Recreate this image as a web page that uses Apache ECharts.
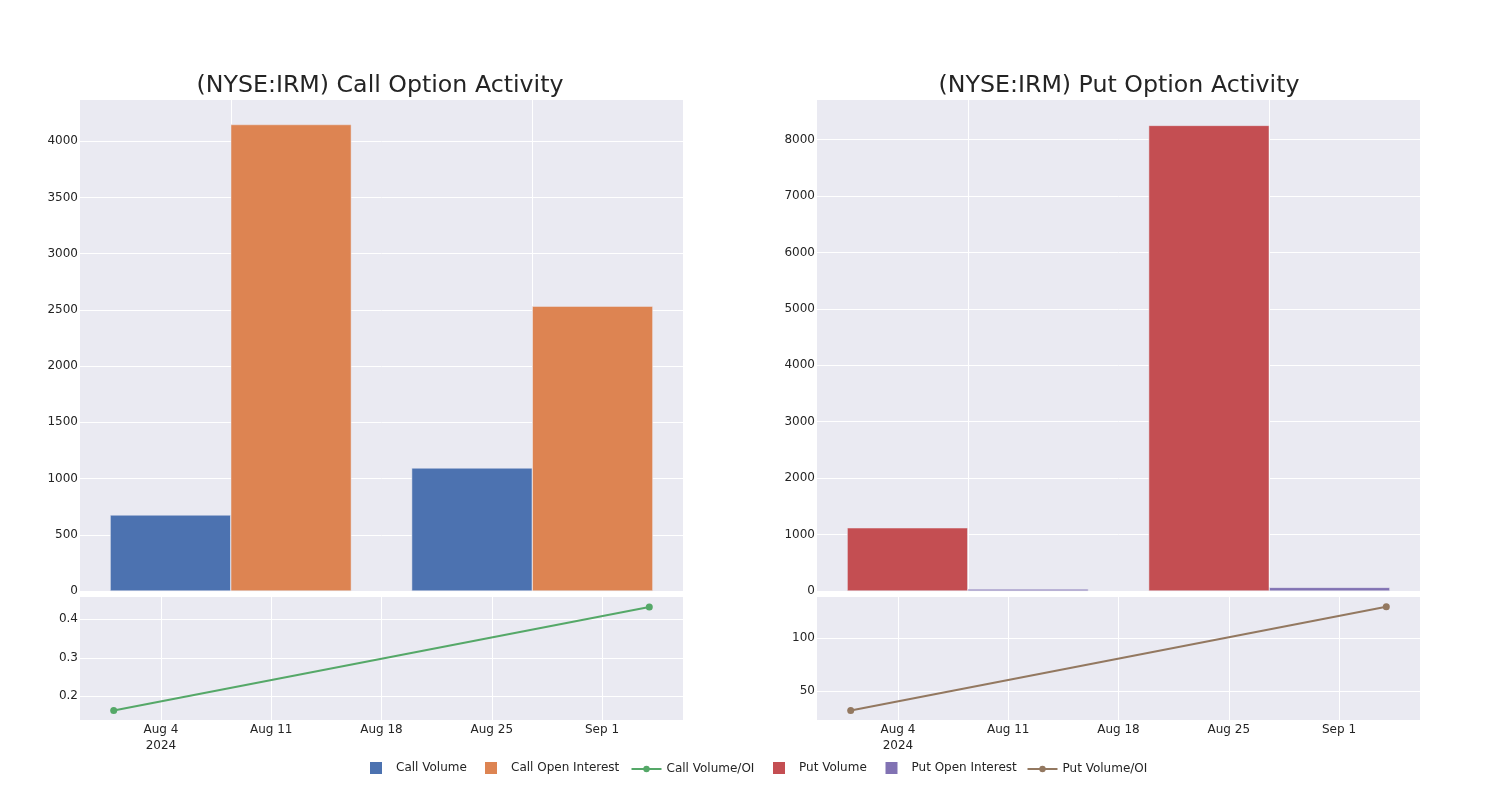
<!DOCTYPE html>
<html><head><meta charset="utf-8">
<script src="https://cdn.jsdelivr.net/npm/echarts@6/dist/echarts.min.js"></script>
<style>html,body{margin:0;padding:0;background:#fff}#c{width:1500px;height:800px}</style>
</head><body><div id="c"></div>
<script>
// ---- data ----
const barDates = ['2024-08-01', '2024-09-04'];
const callVolume = [676, 1094];
const callOpenInterest = [4148, 2533];
const putVolume = [1120, 8250];
const putOpenInterest = [35, 64];
const ratioDates = ['2024-08-01', '2024-09-04'];
const callVolumeOI = [0.163, 0.432];
const putVolumeOI = [32.0, 128.9];
const tickDates = ['2024-08-04', '2024-08-11', '2024-08-18', '2024-08-25', '2024-09-01'];
const tickLabels = ['Aug 4\n2024', 'Aug 11', 'Aug 18', 'Aug 25', 'Sep 1'];
const callBarTicks = [0, 500, 1000, 1500, 2000, 2500, 3000, 3500, 4000];
const putBarTicks = [0, 1000, 2000, 3000, 4000, 5000, 6000, 7000, 8000];
const callRatioTicks = [0.2, 0.3, 0.4];
const putRatioTicks = [50, 100];

// ---- chart ----
const DAY = 86400000;
const ts = s => new Date(s + 'T00:00:00').getTime();
const tickTimes = tickDates.map(ts);
const timeMin = tickTimes[0] - 5.14 * DAY;
const timeMax = tickTimes[tickTimes.length - 1] + 5.14 * DAY;

const TXT = '#242424';
const BG = '#EAEAF2';
const FONT = 'DejaVu Sans';
const C = {cv: '#4C72B0', coi: '#DD8452', cr: '#55A868', pv: '#C44E52', poi: '#8172B3', pr: '#937860'};

const grids = [
  {left: 80, top: 100, width: 603, height: 491},
  {left: 80, top: 597, width: 603, height: 123},
  {left: 817, top: 100, width: 603, height: 491},
  {left: 817, top: 597, width: 603, height: 123}
].map(g => Object.assign({show: true, backgroundColor: BG, borderWidth: 0, containLabel: false}, g));

function catX(gi) {
  return {
    type: 'category', gridIndex: gi, data: barDates, boundaryGap: true,
    axisLine: {show: false}, axisTick: {show: false, alignWithLabel: true}, axisLabel: {show: false},
    splitLine: {show: true, alignWithLabel: true, lineStyle: {color: '#ffffff', width: 1}}
  };
}
function timeX(gi) {
  return {
    type: 'value', gridIndex: gi, min: timeMin, max: timeMax, scale: true,
    axisLine: {show: false},
    axisTick: {show: false, customValues: tickTimes},
    axisLabel: {
      show: true, customValues: tickTimes, color: TXT, fontFamily: FONT, fontSize: 12, lineHeight: 16, margin: 2,
      hideOverlap: false,
      formatter: v => { const i = tickTimes.indexOf(v); return i >= 0 ? tickLabels[i] : ''; }
    },
    splitLine: {show: true, lineStyle: {color: '#ffffff', width: 1}}
  };
}
function valY(gi, min, max, ticks) {
  return {
    type: 'value', gridIndex: gi, min: min, max: max,
    axisLine: {show: false},
    axisTick: {show: false, customValues: ticks},
    axisLabel: {show: true, customValues: ticks, color: TXT, fontFamily: FONT, fontSize: 12, margin: 2,
      formatter: v => String(v)},
    splitLine: {show: true, lineStyle: {color: '#ffffff', width: 1}}
  };
}

const barBase = {type: 'bar', barGap: '0%', barCategoryGap: '20%', itemStyle: {borderColor: BG, borderWidth: 0.5}};
const lineBase = {type: 'line', symbol: 'circle', symbolSize: 7, lineStyle: {width: 2}};
const sq = 'path://M0,0L10,0L10,10L0,10Z';

function legendItem(name, left, isBar) {
  const l = {
    left: left, top: isBar ? 762 : 763, padding: 0, itemWidth: 30, itemHeight: isBar ? 12 : 8,
    textStyle: {fontFamily: FONT, fontSize: 12, color: TXT},
    data: [isBar ? {name: name, icon: sq} : {name: name}]
  };
  if (isBar) l.itemStyle = {borderWidth: 0};
  return l;
}

const option = {
  animation: false,
  textStyle: {fontFamily: FONT, color: TXT},
  title: [
    {text: '(NYSE:IRM) Call Option Activity', left: 375, top: 69, textAlign: 'center',
     textStyle: {fontFamily: FONT, fontSize: 23.7, fontWeight: 'normal', color: TXT}},
    {text: '(NYSE:IRM) Put Option Activity', left: 1114, top: 69, textAlign: 'center',
     textStyle: {fontFamily: FONT, fontSize: 23.7, fontWeight: 'normal', color: TXT}}
  ],
  legend: [
    legendItem('Call Volume', 370, true),
    legendItem('Call Open Interest', 485, true),
    legendItem('Call Volume/OI', 630.5, false),
    legendItem('Put Volume', 773, true),
    legendItem('Put Open Interest', 885.5, true),
    legendItem('Put Volume/OI', 1026.5, false)
  ],
  grid: grids,
  xAxis: [catX(0), timeX(1), catX(2), timeX(3)],
  yAxis: [
    valY(0, 0, 4366, callBarTicks),
    valY(1, 0.1381, 0.4582, callRatioTicks),
    valY(2, 0, 8700, putBarTicks),
    valY(3, 23.1, 138.1, putRatioTicks)
  ],
  series: [
    Object.assign({}, barBase, {name: 'Call Volume', xAxisIndex: 0, yAxisIndex: 0, data: callVolume, color: C.cv}),
    Object.assign({}, barBase, {name: 'Call Open Interest', xAxisIndex: 0, yAxisIndex: 0, data: callOpenInterest, color: C.coi}),
    Object.assign({}, lineBase, {name: 'Call Volume/OI', xAxisIndex: 1, yAxisIndex: 1, color: C.cr,
      data: ratioDates.map((d, i) => [ts(d), callVolumeOI[i]])}),
    Object.assign({}, barBase, {name: 'Put Volume', xAxisIndex: 2, yAxisIndex: 2, data: putVolume, color: C.pv}),
    Object.assign({}, barBase, {name: 'Put Open Interest', xAxisIndex: 2, yAxisIndex: 2, data: putOpenInterest, color: C.poi}),
    Object.assign({}, lineBase, {name: 'Put Volume/OI', xAxisIndex: 3, yAxisIndex: 3, color: C.pr,
      data: ratioDates.map((d, i) => [ts(d), putVolumeOI[i]])})
  ]
};

const chart = echarts.init(document.getElementById('c'), null, {renderer: 'canvas'});
chart.setOption(option);
</script>
</body></html>
